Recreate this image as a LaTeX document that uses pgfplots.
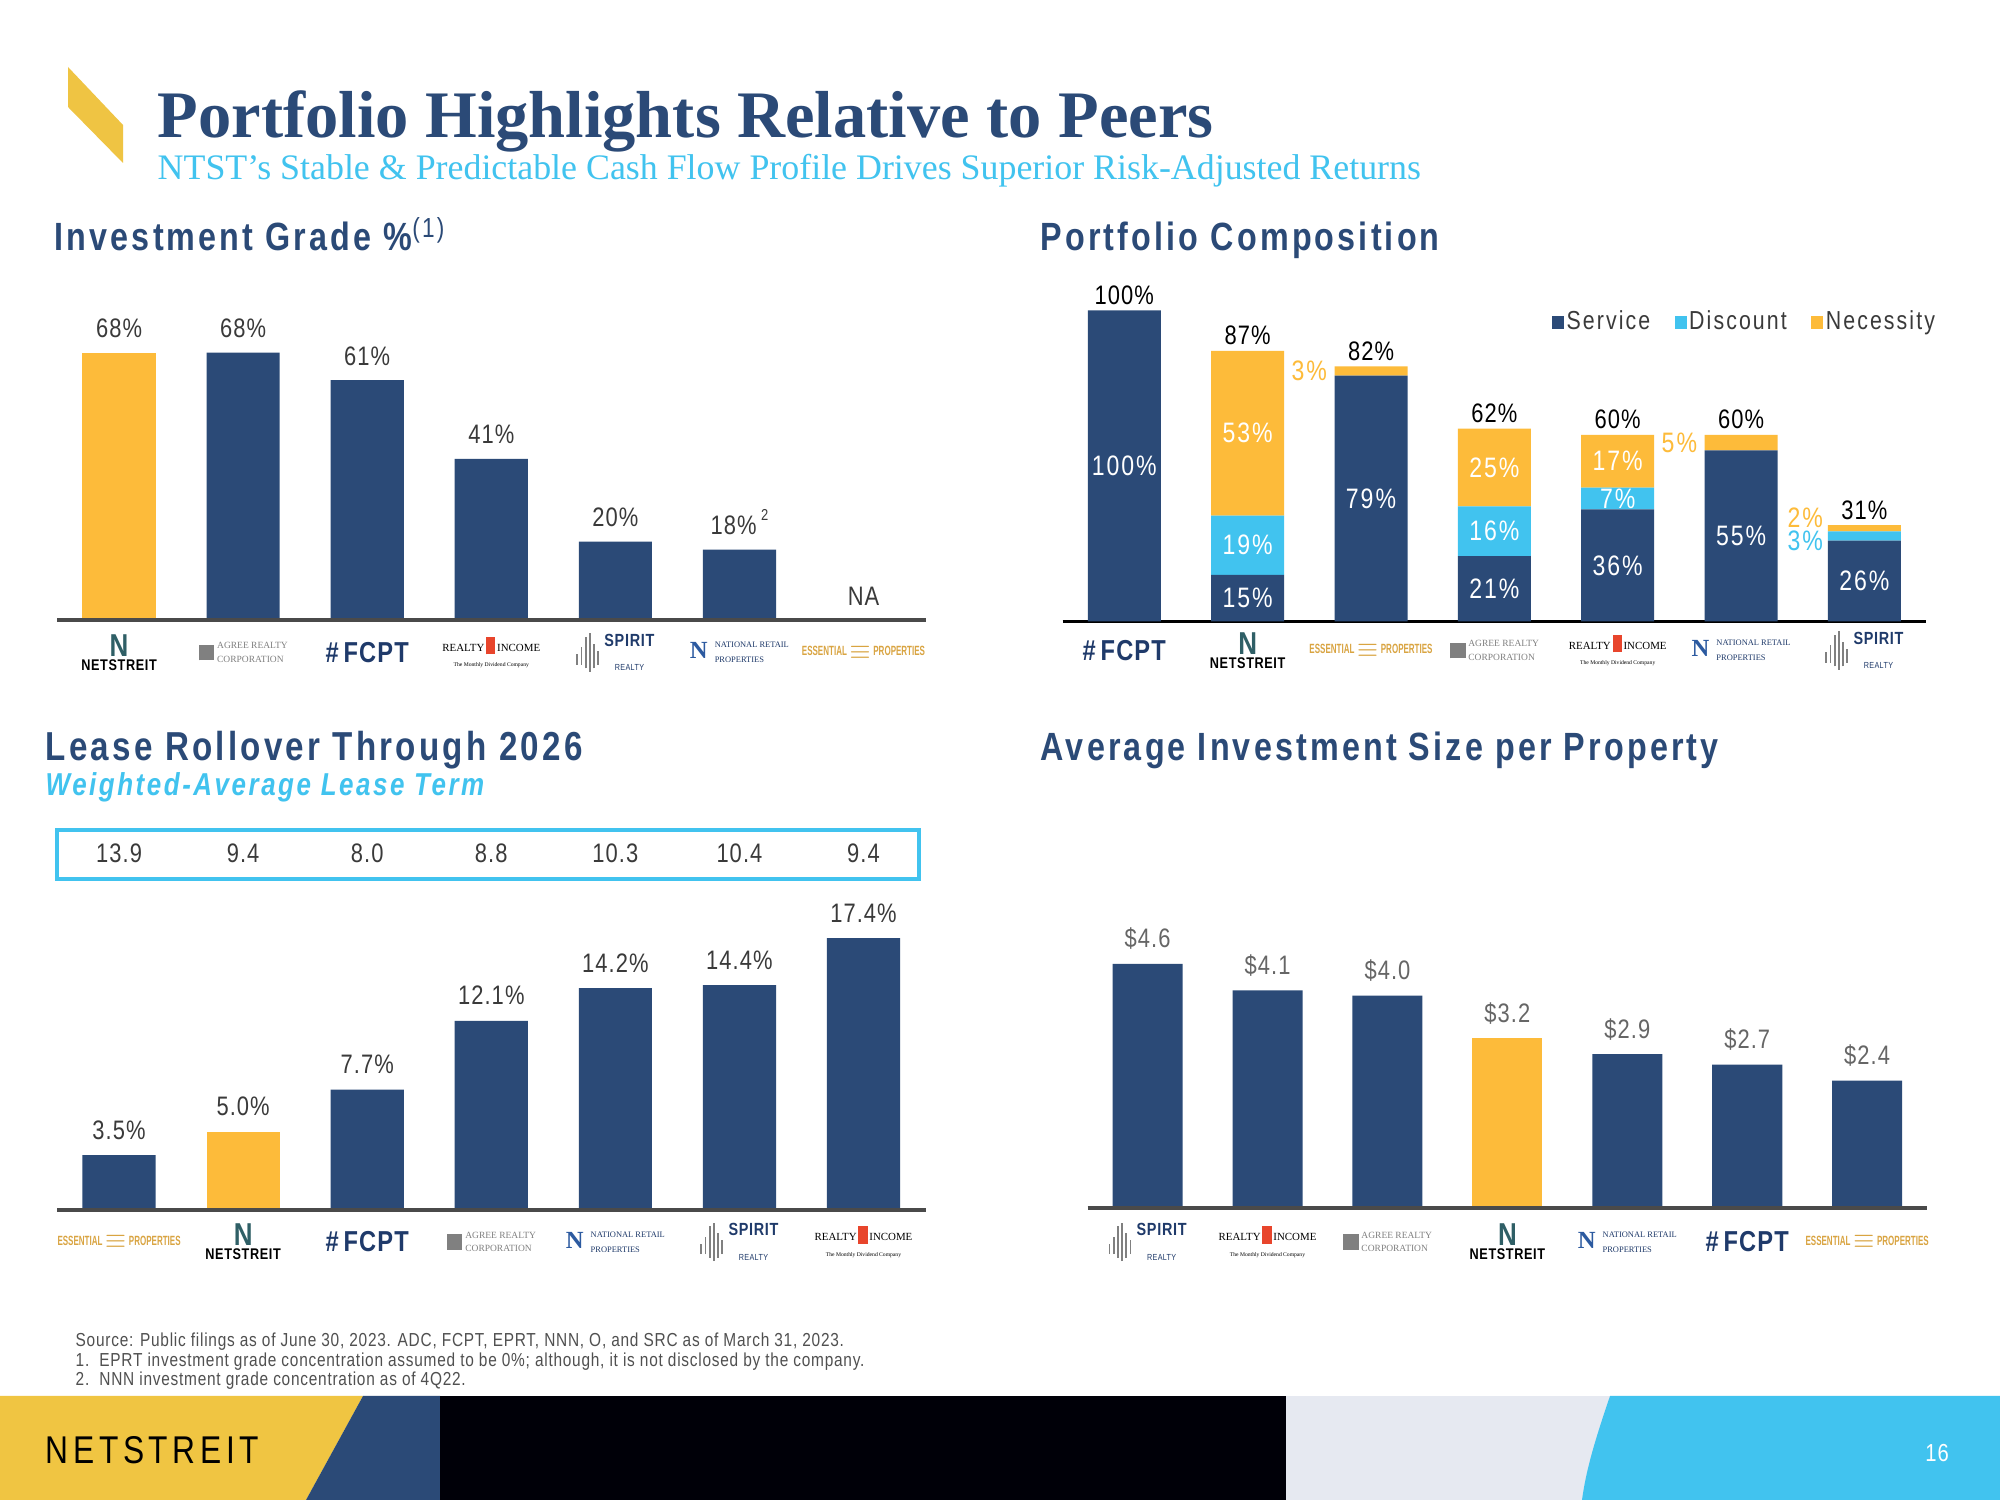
\documentclass[border=0pt]{standalone}
\usepackage{fontspec}
\setmainfont{Liberation Sans}
\usepackage{pgfplots}
\pgfplotsset{compat=1.18}
\newfontfamily\cf{Liberation Sans}[FakeStretch=0.82,LetterSpace=4]
\newfontfamily\hf{Liberation Sans}[FakeStretch=0.82,LetterSpace=8]
\newfontfamily\ef{Liberation Sans}[FakeStretch=0.6]
\newfontfamily\tf{Liberation Serif}
\definecolor{navy}{HTML}{2B4A77}
\definecolor{gold}{HTML}{FDBB3A}
\definecolor{cyanc}{HTML}{41C3EF}
\definecolor{txt}{HTML}{3A3A3A}
\definecolor{axgray}{HTML}{4A4A4A}
\definecolor{logoy}{HTML}{EFC443}
\definecolor{footy}{HTML}{F0C542}
\definecolor{lightg}{HTML}{E6E9F1}
\definecolor{ntN}{HTML}{2F5F66}
\definecolor{fcpt}{HTML}{1F3A6A}
\definecolor{eprt}{HTML}{D9A441}
\definecolor{nnnb}{HTML}{2C5AA0}
\definecolor{ored}{HTML}{E8452C}
\definecolor{foot}{HTML}{505050}
% two-line helpers
\newcommand\twol[2]{$\vcenter{\baselineskip=1.4em\lineskip=0pt\lineskiplimit=-20pt\halign{##\hfil\cr#1\cr#2\cr}}$}
\newcommand\twolw[2]{$\vcenter{\baselineskip=1.8em\lineskip=0pt\lineskiplimit=-20pt\halign{##\hfil\cr#1\cr#2\cr}}$}
\newcommand\twoc[2]{$\vcenter{\baselineskip=1.4em\lineskip=0pt\lineskiplimit=-20pt\halign{\hfil##\hfil\cr#1\cr#2\cr}}$}
\newcommand\vc[1]{$\vcenter{\hbox{#1}}$}
% logos as text
\newcommand\lgNTST{{\fontsize{9}{9}\selectfont\bfseries\color{ntN}N}\\[-1pt]{\cf\bfseries\fontsize{4.4}{5}\selectfont NETSTREIT}}
\newcommand\lgADC{{\color{gray}\vc{\rule{4.5pt}{4.5pt}}}\hspace{0.8pt}{\tf\fontsize{2.7}{3}\selectfont\color{gray}\twol{AGREE REALTY}{CORPORATION}}}
\newcommand\lgFCPT{{\color{fcpt}\bfseries\fontsize{8.2}{9}\selectfont\#\,FCPT}}
\newcommand\lgO{{\tf\fontsize{3.1}{3.5}\selectfont\twoc{REALTY\,{\color{ored}\rule[-0.8pt]{2.6pt}{5pt}}\,INCOME}{\fontsize{1.6}{2}\selectfont The Monthly Dividend Company}}}
\newcommand\lgSRC{{\color{gray}\vc{\rule{0.5pt}{3pt}\hspace{0.7pt}\rule{0.5pt}{5pt}\hspace{0.7pt}\rule[-1pt]{0.5pt}{9pt}\hspace{0.7pt}\rule[-2pt]{0.5pt}{11pt}\hspace{0.7pt}\rule[-1pt]{0.5pt}{7pt}\hspace{0.7pt}\rule{0.5pt}{4pt}}}\hspace{1.5pt}{\color{fcpt}\cf\fontsize{5}{5}\selectfont\twoc{\bfseries SPIRIT}{\fontsize{2.5}{3}\selectfont REALTY}}}
\newcommand\lgNNN{{\color{nnnb}\tf\bfseries\fontsize{7}{7}\selectfont\vc{N}}\hspace{2pt}{\tf\fontsize{2.4}{3}\selectfont\color{fcpt}\twolw{NATIONAL RETAIL}{PROPERTIES}}}
\newcommand\lgEPRT{{\color{eprt}\ef\bfseries\fontsize{3.8}{4}\selectfont ESSENTIAL\,\raisebox{-0.8pt}{\fontsize{7}{7}\selectfont$\equiv$}\,PROPERTIES}}
\pgfplotsset{
  base/.style={scale only axis, axis lines=none, clip=false, xmin=-0.5, xmax=6.5, ymin=0,
    every axis plot/.append style={draw=none, bar shift=0pt}},
}
\tikzset{
  val/.style={font=\cf\fontsize{7.6}{8}\selectfont, text=txt, anchor=base, inner sep=0pt},
  inn/.style={font=\cf\fontsize{8}{9}\selectfont\addfontfeatures{LetterSpace=7}, text=white, inner sep=0pt},
  logo/.style={align=center, inner sep=0pt, font=\cf\fontsize{5}{5}\selectfont},
  head/.style={font=\hf\bfseries\fontsize{11.2}{13}\selectfont, text=navy, anchor=base west, inner sep=0pt},
}
\begin{document}
\begin{tikzpicture}[x=0.01cm,y=0.01cm]
\path[fill=white] (0,0) rectangle (2000,1500);
% top logo
\fill[logoy] (68,1433) -- (68,1393) -- (123,1337) -- (123,1375) -- cycle;
\node[anchor=base west, inner sep=0pt, font=\tf\bfseries\fontsize{18.9}{21}\selectfont, text=navy] at (157,1362) {Portfolio Highlights Relative to Peers};
\node[anchor=base west, inner sep=0pt, font=\tf\fontsize{10.2}{12}\selectfont, text=cyanc] at (157,1320) {NTST’s Stable \& Predictable Cash Flow Profile Drives Superior Risk-Adjusted Returns};
\node[head] at (54,1249) {Investment Grade \%\textsuperscript{\mdseries(1)}};
\node[head] at (1040,1249) {Portfolio Composition};
\node[head, font=\hf\bfseries\fontsize{11.5}{13}\selectfont] at (45,739) {Lease Rollover Through 2026};
\node[head, text=cyanc, font=\hf\bfseries\itshape\fontsize{9}{11}\selectfont] at (45,704) {Weighted-Average Lease Term};
\node[head] at (1040,739) {Average Investment Size per Property};
% footnotes
\node[anchor=base west, inner sep=0pt, font=\cf\fontsize{5.35}{6}\selectfont, text=foot] at (75,153) {Source: Public filings as of June 30, 2023. ADC, FCPT, EPRT, NNN, O, and SRC as of March 31, 2023.};
\node[anchor=base west, inner sep=0pt, font=\cf\fontsize{5.35}{6}\selectfont, text=foot] at (75,133) {1.\ \ EPRT investment grade concentration assumed to be 0\%; although, it is not disclosed by the company.};
\node[anchor=base west, inner sep=0pt, font=\cf\fontsize{5.35}{6}\selectfont, text=foot] at (75,114) {2.\ \ NNN investment grade concentration as of 4Q22.};
% footer
\fill[footy] (0,104) -- (363,104) -- (306,0) -- (0,0) -- cycle;
\fill[navy] (363,104) -- (440,104) -- (440,0) -- (306,0) -- cycle;
\fill[black!97!blue] (440,104) rectangle (1286,0);
\fill[lightg] (1286,104) rectangle (2000,0);
\fill[cyanc] (1610,104) .. controls (1595,60) and (1586,30) .. (1582,0) -- (2000,0) -- (2000,104) -- cycle;
\node[anchor=west, inner sep=0pt, font=\hf\fontsize{11}{12}\selectfont\addfontfeatures{LetterSpace=12}, text=black] at (45,50) {NETSTREIT};
\node[inner sep=0pt, font=\cf\fontsize{7}{8}\selectfont, text=white] at (1937,47) {16};

% ---------- Investment grade ----------
\begin{axis}[base, at={(0.57cm,8.79cm)}, anchor=south west, width=8.68cm, height=3.15cm, ymax=80, ybar, bar width=0.59]
\addplot[fill=gold] coordinates {(0,68)};
\addplot[fill=navy] coordinates {(1,68)(2,61)(3,41)(4,20)(5,18)};
\draw[axgray, line width=0.04cm] (axis cs:-0.5,0) -- (axis cs:6.5,0);
\node[val] at (axis cs:0,68) [yshift=0.15cm] {68\%};
\node[val] at (axis cs:1,68) [yshift=0.15cm] {68\%};
\node[val] at (axis cs:2,61) [yshift=0.15cm] {61\%};
\node[val] at (axis cs:3,41) [yshift=0.15cm] {41\%};
\node[val] at (axis cs:4,20) [yshift=0.15cm] {20\%};
\node[val] at (axis cs:5,18) [yshift=0.15cm] {18\%\,\raisebox{4pt}{\fontsize{4.5}{5}\selectfont 2}};
\node[val] at (axis cs:6,0) [yshift=0.15cm] {NA};
\node[logo] at (axis cs:0,0) [yshift=-0.32cm] {\lgNTST};
\node[logo] at (axis cs:1,0) [yshift=-0.32cm] {\lgADC};
\node[logo] at (axis cs:2,0) [yshift=-0.32cm] {\lgFCPT};
\node[logo] at (axis cs:3,0) [yshift=-0.32cm] {\lgO};
\node[logo] at (axis cs:4,0) [yshift=-0.32cm] {\lgSRC};
\node[logo] at (axis cs:5,0) [yshift=-0.32cm] {\lgNNN};
\node[logo] at (axis cs:6,0) [yshift=-0.32cm] {\lgEPRT};
\end{axis}

% ---------- Portfolio composition ----------
\begin{axis}[base, at={(10.62cm,8.78cm)}, anchor=south west, width=8.63cm, height=3.42cm, ymax=110, ybar stacked, bar width=0.592,
  legend style={at={(rel axis cs:0.566,0.872)}, anchor=west, draw=none, fill=none, inner sep=0pt,
    font=\cf\fontsize{7.4}{8}\selectfont\addfontfeatures{LetterSpace=8}, text=txt, legend columns=-1,
    nodes={inner sep=0.025cm}, /tikz/every even column/.append style={column sep=0.22cm}},
  legend image code/.code={\fill[#1] (0cm,-0.06cm) rectangle (0.12cm,0.07cm);},
  after end axis/.code={
    \node[inn] at (axis cs:0,50) {100\%};
    \node[inn] at (axis cs:1,7.5) {15\%};
    \node[inn] at (axis cs:1,24.5) {19\%};
    \node[inn] at (axis cs:1,60.5) {53\%};
    \node[inn] at (axis cs:2,39.5) {79\%};
    \node[inn] at (axis cs:3,10.5) {21\%};
    \node[inn] at (axis cs:3,29) {16\%};
    \node[inn] at (axis cs:3,49.5) {25\%};
    \node[inn] at (axis cs:4,18) {36\%};
    \node[inn] at (axis cs:4,39.5) {7\%};
    \node[inn] at (axis cs:4,51.5) {17\%};
    \node[inn] at (axis cs:5,27.5) {55\%};
    \node[inn] at (axis cs:6,13) {26\%};
  }]
\addplot[fill=navy] coordinates {(0,100)(1,15)(2,79)(3,21)(4,36)(5,55)(6,26)};
\addplot[fill=cyanc] coordinates {(0,0)(1,19)(2,0)(3,16)(4,7)(5,0)(6,3)};
\addplot[fill=gold] coordinates {(0,0)(1,53)(2,3)(3,25)(4,17)(5,5)(6,2)};
\legend{Service,Discount,Necessity}
\draw[black, line width=0.035cm] (axis cs:-0.5,0) -- (axis cs:6.5,0);
\node[val, text=black] at (axis cs:0,100) [yshift=0.06cm] {100\%};
\node[val, text=black] at (axis cs:1,87) [yshift=0.06cm] {87\%};
\node[val, text=black] at (axis cs:2,82) [yshift=0.06cm] {82\%};
\node[val, text=black] at (axis cs:3,62) [yshift=0.06cm] {62\%};
\node[val, text=black] at (axis cs:4,60) [yshift=0.06cm] {60\%};
\node[val, text=black] at (axis cs:5,60) [yshift=0.06cm] {60\%};
\node[val, text=black] at (axis cs:6,31) [yshift=0.06cm] {31\%};
\node[inn, text=gold] at (axis cs:1.5,80.5) {3\%};
\node[inn, text=gold] at (axis cs:4.5,57.5) {5\%};
\node[inn, text=gold] at (axis cs:5.52,33.2) {2\%};
\node[inn, text=cyanc] at (axis cs:5.52,26) {3\%};
\node[logo] at (axis cs:0,0) [yshift=-0.29cm] {\lgFCPT};
\node[logo] at (axis cs:1,0) [yshift=-0.29cm] {\lgNTST};
\node[logo] at (axis cs:2,0) [yshift=-0.29cm] {\lgEPRT};
\node[logo] at (axis cs:3,0) [yshift=-0.29cm] {\lgADC};
\node[logo] at (axis cs:4,0) [yshift=-0.29cm] {\lgO};
\node[logo] at (axis cs:5,0) [yshift=-0.29cm] {\lgNNN};
\node[logo] at (axis cs:6,0) [yshift=-0.29cm] {\lgSRC};
\end{axis}

% ---------- Lease rollover ----------
\begin{axis}[base, at={(0.57cm,2.90cm)}, anchor=south west, width=8.68cm, height=3.12cm, ymax=20, ybar, bar width=0.59]
\addplot[fill=navy] coordinates {(0,3.5)(2,7.7)(3,12.1)(4,14.2)(5,14.4)(6,17.4)};
\addplot[fill=gold] coordinates {(1,5.0)};
\draw[axgray, line width=0.04cm] (axis cs:-0.5,0) -- (axis cs:6.5,0);
\draw[cyanc, line width=0.04cm] (axis cs:-0.5,21.2) rectangle (axis cs:6.45,24.36);
\node[val, anchor=center] at (axis cs:0,22.85) {13.9};
\node[val, anchor=center] at (axis cs:1,22.85) {9.4};
\node[val, anchor=center] at (axis cs:2,22.85) {8.0};
\node[val, anchor=center] at (axis cs:3,22.85) {8.8};
\node[val, anchor=center] at (axis cs:4,22.85) {10.3};
\node[val, anchor=center] at (axis cs:5,22.85) {10.4};
\node[val, anchor=center] at (axis cs:6,22.85) {9.4};
\node[val] at (axis cs:0,3.5) [yshift=0.16cm] {3.5\%};
\node[val] at (axis cs:1,5.0) [yshift=0.16cm] {5.0\%};
\node[val] at (axis cs:2,7.7) [yshift=0.16cm] {7.7\%};
\node[val] at (axis cs:3,12.1) [yshift=0.16cm] {12.1\%};
\node[val] at (axis cs:4,14.2) [yshift=0.16cm] {14.2\%};
\node[val] at (axis cs:5,14.4) [yshift=0.16cm] {14.4\%};
\node[val] at (axis cs:6,17.4) [yshift=0.16cm] {17.4\%};
\node[logo] at (axis cs:0,0) [yshift=-0.32cm] {\lgEPRT};
\node[logo] at (axis cs:1,0) [yshift=-0.32cm] {\lgNTST};
\node[logo] at (axis cs:2,0) [yshift=-0.32cm] {\lgFCPT};
\node[logo] at (axis cs:3,0) [yshift=-0.32cm] {\lgADC};
\node[logo] at (axis cs:4,0) [yshift=-0.32cm] {\lgNNN};
\node[logo] at (axis cs:5,0) [yshift=-0.32cm] {\lgSRC};
\node[logo] at (axis cs:6,0) [yshift=-0.32cm] {\lgO};
\end{axis}

% ---------- Average investment size ----------
\begin{axis}[base, at={(10.87cm,2.92cm)}, anchor=south west, width=8.39cm, height=3.18cm, ymax=6, ybar, bar width=0.584]
\addplot[fill=navy] coordinates {(0,4.6)(1,4.1)(2,4.0)(4,2.9)(5,2.7)(6,2.4)};
\addplot[fill=gold] coordinates {(3,3.2)};
\draw[axgray, line width=0.035cm] (axis cs:-0.5,0) -- (axis cs:6.5,0);
\node[val, text=gray!80!black] at (axis cs:0,4.6) [yshift=0.16cm] {\$4.6};
\node[val, text=gray!80!black] at (axis cs:1,4.1) [yshift=0.16cm] {\$4.1};
\node[val, text=gray!80!black] at (axis cs:2,4.0) [yshift=0.16cm] {\$4.0};
\node[val, text=gray!80!black] at (axis cs:3,3.2) [yshift=0.16cm] {\$3.2};
\node[val, text=gray!80!black] at (axis cs:4,2.9) [yshift=0.16cm] {\$2.9};
\node[val, text=gray!80!black] at (axis cs:5,2.7) [yshift=0.16cm] {\$2.7};
\node[val, text=gray!80!black] at (axis cs:6,2.4) [yshift=0.16cm] {\$2.4};
\node[logo] at (axis cs:0,0) [yshift=-0.34cm] {\lgSRC};
\node[logo] at (axis cs:1,0) [yshift=-0.34cm] {\lgO};
\node[logo] at (axis cs:2,0) [yshift=-0.34cm] {\lgADC};
\node[logo] at (axis cs:3,0) [yshift=-0.34cm] {\lgNTST};
\node[logo] at (axis cs:4,0) [yshift=-0.34cm] {\lgNNN};
\node[logo] at (axis cs:5,0) [yshift=-0.34cm] {\lgFCPT};
\node[logo] at (axis cs:6,0) [yshift=-0.34cm] {\lgEPRT};
\end{axis}
\end{tikzpicture}
\end{document}
